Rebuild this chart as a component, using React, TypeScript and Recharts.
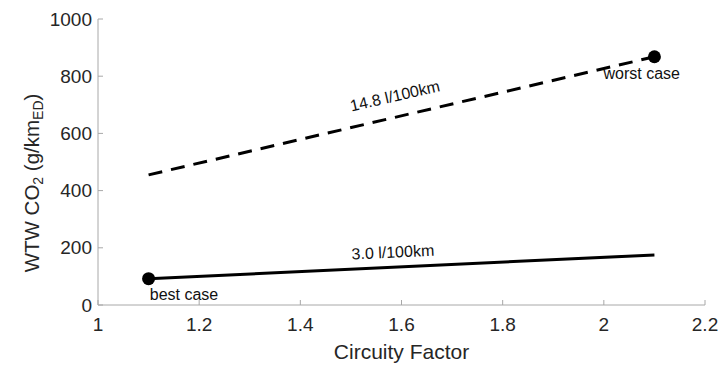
import React from 'react';
import {
  ComposedChart,
  Label,
  Line,
  ReferenceDot,
  Scatter,
  XAxis,
  YAxis,
} from 'recharts';

// circuity factor at the two ends of each line
const circuity = [1.1, 2.1];
// WTW CO2 (g/km_ED)
const co2Low = [92, 175]; // 3.0 l/100km
const co2High = [455, 868]; // 14.8 l/100km

const xTicks = [1, 1.2, 1.4, 1.6, 1.8, 2, 2.2];
const yTicks = [0, 200, 400, 600, 800, 1000];

// text annotations, anchored in data units
const noteText = ['14.8 l/100km', '3.0 l/100km', 'best case', 'worst case'];
const noteX = [1.587, 1.583, 1.17, 2.075];
const noteY = [731, 185, 35, 811];
const noteAngle = [-13, -2.7, 0, 0];

const lowRows = circuity.map((x, i) => ({ x, y: co2Low[i] }));
const highRows = circuity.map((x, i) => ({ x, y: co2High[i] }));
const caseRows = [
  { x: circuity[0], y: co2Low[0] },
  { x: circuity[1], y: co2High[1] },
];

const FONT = '"Liberation Sans", Arial, Helvetica, sans-serif';
const BOX = '#a8a8a8';
const INK = '#262626';
const TICK_LEN = 5;

/* inward tick marks, MATLAB style */

function BottomTick({ x, y, payload }: any) {
  const axisY = y - 18;
  return (
    <g>
      <line x1={x} x2={x} y1={axisY} y2={axisY - TICK_LEN} stroke={BOX} />
      <text
        x={x}
        y={axisY + 26}
        textAnchor="middle"
        fontFamily={FONT}
        fontSize={19}
        fill={INK}
      >
        {payload.value}
      </text>
    </g>
  );
}

function LeftTick({ x, y, payload }: any) {
  const axisX = x + 8;
  return (
    <g>
      <line x1={axisX} x2={axisX + TICK_LEN} y1={y} y2={y} stroke={BOX} />
      <text
        x={axisX - 6}
        y={y}
        textAnchor="end"
        dominantBaseline="central"
        fontFamily={FONT}
        fontSize={19}
        fill={INK}
      >
        {payload.value}
      </text>
    </g>
  );
}

function TopTick({ x, y }: any) {
  return <line x1={x} x2={x} y1={y} y2={y + TICK_LEN} stroke={BOX} />;
}

function RightTick({ x, y }: any) {
  return <line x1={x} x2={x - TICK_LEN} y1={y} y2={y} stroke={BOX} />;
}

function YTitle({ viewBox }: any) {
  const cx = viewBox.x + 31;
  const cy = 183;
  return (
    <text
      x={cx}
      y={cy}
      transform={`rotate(-90 ${cx} ${cy})`}
      textAnchor="middle"
      dominantBaseline="central"
      fontFamily={FONT}
      fontSize={20.5}
      fill={INK}
    >
      <tspan>WTW CO</tspan>
      <tspan fontSize={14} dy={7}>2</tspan>
      <tspan dy={-7}> (g/km</tspan>
      <tspan fontSize={14} dy={7}>ED</tspan>
      <tspan dy={-7}>)</tspan>
    </text>
  );
}

function XTitle({ viewBox }: any) {
  return (
    <text
      x={viewBox.x + viewBox.width / 2}
      y={viewBox.y + 54}
      textAnchor="middle"
      fontFamily={FONT}
      fontSize={21}
      fill={INK}
    >
      Circuity Factor
    </text>
  );
}

function CaseDot({ cx, cy }: any) {
  return <circle cx={cx} cy={cy} r={6.5} fill="#000" />;
}

export default function App() {
  return (
    <div style={{ position: 'absolute', left: 0, top: 0, background: '#fff' }}>
      <ComposedChart
        width={719}
        height={365}
        margin={{ top: 19, right: 14, bottom: 0, left: 0 }}
      >
        <XAxis
          type="number"
          dataKey="x"
          domain={[1, 2.2]}
          ticks={xTicks}
          height={60}
          stroke={BOX}
          tickLine={false}
          tickSize={0}
          tickMargin={18}
          tick={BottomTick}
          allowDataOverflow
        >
          <Label content={XTitle} />
        </XAxis>
        <XAxis
          xAxisId="top"
          orientation="top"
          type="number"
          domain={[1, 2.2]}
          ticks={xTicks}
          height={0}
          stroke={BOX}
          tickLine={false}
          tickSize={0}
          tickMargin={0}
          tick={TopTick}
          allowDataOverflow
        />
        <YAxis
          type="number"
          dataKey="y"
          domain={[0, 1000]}
          ticks={yTicks}
          width={98}
          stroke={BOX}
          tickLine={false}
          tickSize={0}
          tickMargin={8}
          tick={LeftTick}
          allowDataOverflow
        >
          <Label content={YTitle} />
        </YAxis>
        <YAxis
          yAxisId="right"
          orientation="right"
          type="number"
          domain={[0, 1000]}
          ticks={yTicks}
          width={0}
          stroke={BOX}
          tickLine={false}
          tickSize={0}
          tickMargin={0}
          tick={RightTick}
          allowDataOverflow
        />
        <Line
          data={highRows}
          dataKey="y"
          stroke="#000"
          strokeWidth={3}
          strokeDasharray="14 9"
          dot={false}
          isAnimationActive={false}
        />
        <Line
          data={lowRows}
          dataKey="y"
          stroke="#000"
          strokeWidth={3}
          dot={false}
          isAnimationActive={false}
        />
        <Scatter data={caseRows} shape={CaseDot} isAnimationActive={false} />
        {noteText.map((t, i) => (
          <ReferenceDot
            key={t}
            x={noteX[i]}
            y={noteY[i]}
            r={0}
            shape={(p: any) => (
              <text
                x={p.cx}
                y={p.cy}
                transform={`rotate(${noteAngle[i]} ${p.cx} ${p.cy})`}
                textAnchor="middle"
                dominantBaseline="central"
                fontFamily={FONT}
                fontSize={16}
                fill="#111"
              >
                {t}
              </text>
            )}
          />
        ))}
      </ComposedChart>
    </div>
  );
}
